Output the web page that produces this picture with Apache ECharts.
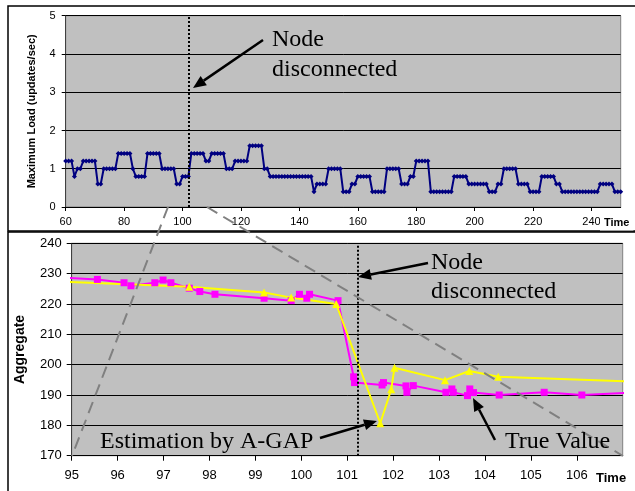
<!DOCTYPE html>
<html>
<head>
<meta charset="utf-8">
<script src="https://cdn.jsdelivr.net/npm/echarts@6/dist/echarts.min.js"></script>
<style>html,body{margin:0;padding:0;background:#fff}#main{width:635px;height:491px}</style>
</head>
<body>
<div id="main"></div>
<script>
// ---------- Top chart data (time 60..250, step 1) ----------
const loadStartTime = 60;
const loadValues = [
  1.2,1.2,1.2,0.8,1.0,1.0,1.2,1.2,1.2,1.2,
  1.2,0.6,0.6,1.0,1.0,1.0,1.0,1.0,1.4,1.4,
  1.4,1.4,1.4,1.0,0.8,0.8,0.8,0.8,1.4,1.4,
  1.4,1.4,1.4,1.0,1.0,1.0,1.0,1.0,0.6,0.6,
  0.8,0.8,0.8,1.4,1.4,1.4,1.4,1.4,1.2,1.2,
  1.4,1.4,1.4,1.4,1.4,1.0,1.0,1.0,1.2,1.2,
  1.2,1.2,1.2,1.6,1.6,1.6,1.6,1.6,1.0,1.0,
  0.8,0.8,0.8,0.8,0.8,0.8,0.8,0.8,0.8,0.8,
  0.8,0.8,0.8,0.8,0.8,0.4,0.6,0.6,0.6,0.6,
  1.0,1.0,1.0,1.0,1.0,0.4,0.4,0.4,0.6,0.6,
  0.8,0.8,0.8,0.8,0.8,0.4,0.4,0.4,0.4,0.4,
  1.0,1.0,1.0,1.0,1.0,0.6,0.6,0.6,0.8,0.8,
  1.2,1.2,1.2,1.2,1.2,0.4,0.4,0.4,0.4,0.4,
  0.4,0.4,0.4,0.8,0.8,0.8,0.8,0.8,0.6,0.6,
  0.6,0.6,0.6,0.6,0.6,0.4,0.4,0.4,0.6,0.6,
  1.0,1.0,1.0,1.0,1.0,0.6,0.6,0.6,0.6,0.4,
  0.4,0.4,0.4,0.8,0.8,0.8,0.8,0.8,0.6,0.6,
  0.4,0.4,0.4,0.4,0.4,0.4,0.4,0.4,0.4,0.4,
  0.4,0.4,0.4,0.6,0.6,0.6,0.6,0.6,0.4,0.4,
  0.4
];
const topDisconnectTime = 102;
const topYTicks = [0, 1, 2, 3, 4, 5];

// ---------- Bottom chart data ----------
const trueTimes  = [94.6, 95.56, 96.14, 96.29, 96.81, 96.99, 97.16, 97.56, 97.79, 98.12, 99.19, 99.78, 99.96, 100.12, 100.18, 100.80, 101.14, 101.16, 101.76, 101.79, 102.28, 102.30, 102.44, 103.15, 103.28, 103.31, 103.62, 103.67, 103.75, 104.31, 105.29, 106.11, 107.4];
const trueValues = [228.9, 228.1, 227.0, 226.0, 227.0, 227.9, 227.0, 225.2, 224.1, 223.2, 221.9, 221.1, 223.2, 221.9, 223.2, 221.1, 196.0, 194.1, 193.3, 194.1, 193.0, 190.9, 193.1, 190.9, 192.0, 190.9, 189.8, 192.0, 190.8, 190.0, 190.9, 190.0, 190.9];
const estTimes   = [94.6, 97.56, 99.19, 99.78, 100.76, 101.72, 101.96, 102.03, 103.13, 103.66, 104.29, 107.4];
const estValues  = [227.5, 225.7, 223.8, 222.1, 220.0, 180.7, 191.9, 199.0, 194.9, 197.9, 196.0, 194.3];
const bottomDisconnectTime = 101.23;

const loadData = loadValues.map((v, i) => [loadStartTime + i, v]);
const trueData = trueTimes.map((t, i) => [t, trueValues[i]]);
const estData  = estTimes.map((t, i) => [t, estValues[i]]);

const SANS = '"Liberation Sans", Arial, sans-serif';
const SERIF = '"Liberation Serif", "Times New Roman", serif';

function arrow(x1, y1, x2, y2) {
  const a = Math.atan2(y2 - y1, x2 - x1);
  const L = 13, W = 5.5;
  const bx = x2 - L * Math.cos(a), by = y2 - L * Math.sin(a);
  return [
    {type: 'line', z: 100, silent: true, shape: {x1: x1, y1: y1, x2: bx, y2: by}, style: {stroke: '#000', lineWidth: 2.5}},
    {type: 'polygon', z: 100, silent: true, shape: {points: [[x2, y2], [bx + W * Math.sin(a), by - W * Math.cos(a)], [bx - W * Math.sin(a), by + W * Math.cos(a)]]}, style: {fill: '#000'}}
  ];
}
function label(txt, x, y) {
  return {type: 'text', z: 100, silent: true, x: x, y: y, style: {text: txt, fontFamily: SERIF, fontSize: 24, fill: '#000', verticalAlign: 'middle', align: 'left'}};
}
function dashed(x1, y1, x2, y2) {
  return {type: 'line', z: 90, silent: true, shape: {x1: x1, y1: y1, x2: x2, y2: y2}, style: {stroke: '#808080', lineWidth: 2, lineDash: [12, 7]}};
}

const graphics = [
  {type: 'rect', z: -1, silent: true, shape: {x: 8, y: 6, width: 640, height: 225}, style: {fill: 'none', stroke: '#000', lineWidth: 1.5}},
  {type: 'rect', z: -1, silent: true, shape: {x: 8, y: 232, width: 640, height: 270}, style: {fill: 'none', stroke: '#000', lineWidth: 1.5}},
  dashed(168, 207, 72, 456),
  dashed(207, 207, 623, 456),
  label('Node', 272, 40),
  label('disconnected', 272, 70),
  label('Node', 431, 263),
  label('disconnected', 431, 292),
  label('Estimation by A-GAP', 100, 442),
  label('True Value', 505, 442),
  {type: 'text', z: 100, silent: true, x: 600, y: 223, style: {text: 'Time', fontFamily: SANS, fontWeight: 'bold', fontSize: 11, fill: '#000', verticalAlign: 'middle', backgroundColor: '#fff', padding: [2, 4]}},
  {type: 'text', z: 100, silent: true, x: 596, y: 478, style: {text: 'Time', fontFamily: SANS, fontWeight: 'bold', fontSize: 13, fill: '#000', verticalAlign: 'middle'}}
].concat(arrow(263, 40, 193, 88))
 .concat(arrow(428, 263, 358, 277))
 .concat(arrow(320, 438, 377, 421))
 .concat(arrow(495, 440, 473, 398));

const chart = echarts.init(document.getElementById('main'), null, {renderer: 'canvas'});
chart.setOption({
  animation: false,
  backgroundColor: '#fff',
  grid: [
    {left: 65.7, right: 14.3, top: 15.7, bottom: 284, show: true, backgroundColor: '#c0c0c0', borderColor: '#808080', borderWidth: 1},
    {left: 71.7, right: 12.3, top: 243.3, bottom: 35.3, show: true, backgroundColor: '#c0c0c0', borderColor: '#808080', borderWidth: 1}
  ],
  xAxis: [
    {type: 'value', gridIndex: 0, min: 60, max: 250, interval: 20,
     axisLine: {lineStyle: {color: '#000'}}, axisTick: {show: true, length: 4, lineStyle: {color: '#000'}},
     axisLabel: {showMaxLabel: false, color: '#000', fontFamily: SANS, fontSize: 11, margin: 9},
     splitLine: {show: false}},
    {type: 'value', gridIndex: 1, min: 95, max: 107, interval: 1,
     axisLine: {lineStyle: {color: '#000'}}, axisTick: {show: true, length: 5, lineStyle: {color: '#000'}},
     axisLabel: {showMaxLabel: false, color: '#000', fontFamily: SANS, fontSize: 13, margin: 13},
     splitLine: {show: false}}
  ],
  yAxis: [
    {type: 'value', gridIndex: 0, min: topYTicks[0], max: topYTicks[topYTicks.length - 1], interval: 1,
     name: 'Maximum Load (updates/sec)', nameLocation: 'middle', nameGap: 28,
     nameTextStyle: {fontFamily: SANS, fontWeight: 'bold', fontSize: 11, color: '#000'},
     axisLine: {show: true, lineStyle: {color: '#404040'}}, axisTick: {show: true, length: 4, lineStyle: {color: '#000'}},
     axisLabel: {color: '#000', fontFamily: SANS, fontSize: 11, margin: 10},
     splitLine: {show: true, lineStyle: {color: '#000', width: 1}}},
    {type: 'value', gridIndex: 1, min: 170, max: 240, interval: 10,
     name: 'Aggregate', nameLocation: 'middle', nameGap: 45,
     nameTextStyle: {fontFamily: SANS, fontWeight: 'bold', fontSize: 14, color: '#000'},
     axisLine: {show: true, lineStyle: {color: '#404040'}}, axisTick: {show: true, length: 5, lineStyle: {color: '#000'}},
     axisLabel: {color: '#000', fontFamily: SANS, fontSize: 13, margin: 10},
     splitLine: {show: true, lineStyle: {color: '#000', width: 1}}}
  ],
  series: [
    {type: 'line', xAxisIndex: 0, yAxisIndex: 0, data: loadData, clip: true,
     symbol: 'diamond', symbolSize: 5, showAllSymbol: true,
     itemStyle: {color: '#000080'}, lineStyle: {color: '#000080', width: 2},
     markLine: {silent: true, symbol: 'none', label: {show: false},
       lineStyle: {type: [2, 2], color: '#000', width: 2}, data: [{xAxis: topDisconnectTime}]}},
    {type: 'line', xAxisIndex: 1, yAxisIndex: 1, data: trueData, clip: true,
     symbol: 'rect', symbolSize: 7, showAllSymbol: true,
     itemStyle: {color: '#ff00ff'}, lineStyle: {color: '#ff00ff', width: 2},
     markLine: {silent: true, symbol: 'none', label: {show: false},
       lineStyle: {type: [2, 2], color: '#000', width: 2}, data: [{xAxis: bottomDisconnectTime}]}},
    {type: 'line', xAxisIndex: 1, yAxisIndex: 1, data: estData, clip: true,
     symbol: 'triangle', symbolSize: 8, showAllSymbol: true,
     itemStyle: {color: '#ffff00'}, lineStyle: {color: '#ffff00', width: 2}}
  ],
  graphic: graphics
});
</script>
</body>
</html>
